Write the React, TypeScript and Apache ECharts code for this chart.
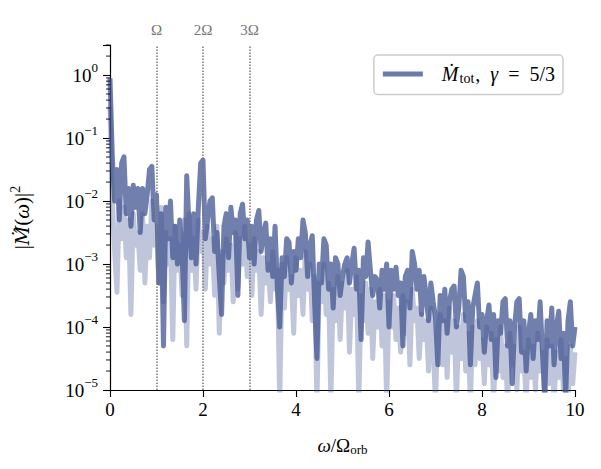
import { useEffect, useRef } from "react";
import * as echarts from "echarts";

// frequency grid (omega / Omega_orb), uniform spacing
const FREQ_STEP = 0.05;

// log10 |M(omega)|^2, one row per unit of omega
const DARK_LOG10 = [
  -0.05, -1.3, -2.0, -1.5, -2.3, -1.4, -1.3, -2.2, -1.8, -2.4, -1.75, -2.1, -1.8, -2.5, -1.8, -2.2, -1.9, -1.5, -1.45, -2.3,
  -1.9, -3.3, -2.2, -4.3, -2.1, -2.6, -2.0, -2.9, -2.4, -3.0, -2.3, -2.8, -3.9, -1.6, -2.4, -2.9, -2.2, -3.0, -2.1, -1.4,
  -1.35, -2.6, -2.3, -2.0, -1.95, -2.8, -2.5, -3.2, -3.8, -2.4, -2.2, -2.9, -2.1, -2.5, -2.3, -3.5, -2.2, -2.05, -2.6, -2.3,
  -2.9, -2.4, -3.0, -2.3, -2.15, -2.8, -2.5, -2.35, -3.1, -2.6, -3.2, -2.4, -3.4, -4.0, -2.9, -3.2, -2.6, -2.65, -3.3, -2.8,
  -3.1, -2.6, -2.9, -2.3, -2.5, -3.2, -2.7, -2.55, -3.6, -4.5, -3.0, -3.3, -2.6, -2.7, -3.4, -3.0, -3.7, -2.9, -3.0, -3.5,
  -3.2, -3.0, -2.9, -3.3, -3.0, -2.75, -3.4, -3.1, -4.2, -2.9, -3.2, -2.65, -3.1, -3.5, -3.2, -3.25, -3.7, -3.1, -3.4, -3.0,
  -4.0, -3.1, -3.4, -3.05, -3.5, -3.3, -4.3, -3.2, -3.1, -3.7, -2.8, -3.0, -3.4, -3.1, -3.8, -3.2, -3.5, -3.9, -3.3, -3.6,
  -3.85, -4.6, -3.5, -3.9, -3.4, -4.1, -3.6, -3.4, -3.35, -4.0, -3.7, -3.1, -3.2, -3.9, -3.6, -4.6, -3.7, -3.5, -3.3, -4.0,
  -3.8, -4.4, -3.9, -3.65, -4.2, -3.8, -4.8, -3.9, -4.1, -3.6, -3.55, -4.3, -3.9, -4.9, -4.0, -3.6, -3.55, -4.4, -3.9, -4.7,
  -4.1, -3.8, -4.5, -3.9, -4.2, -3.6, -4.4, -5.1, -3.9, -4.3, -3.7, -4.6, -4.0, -3.75, -4.5, -4.1, -5.1, -3.9, -3.6, -4.3,
  -4.0,
];

const LIGHT_LOG10 = [
  -0.5, -2.0, -2.8, -3.45, -2.0, -2.6, -2.1, -2.9, -2.3, -3.8, -2.2, -2.7, -2.5, -3.1, -2.2, -3.3, -2.4, -2.9, -2.0, -2.7,
  -2.4, -3.3, -2.1, -3.6, -2.5, -3.0, -2.6, -4.2, -2.4, -3.1, -2.7, -3.5, -2.3, -4.3, -2.2, -3.1, -2.6, -3.4, -2.3, -2.8,
  -2.5, -3.4, -2.4, -3.0, -2.6, -3.5, -2.4, -4.1, -2.8, -3.3, -2.6, -3.1, -2.7, -3.6, -2.5, -3.4, -2.6, -3.0, -2.4, -3.2,
  -2.7, -3.5, -2.6, -3.1, -2.8, -3.8, -2.9, -3.3, -3.0, -3.6, -2.8, -3.4, -3.1, -5.2, -3.0, -3.7, -2.9, -3.4, -3.2, -4.1,
  -2.9, -3.5, -3.1, -3.8, -2.8, -3.4, -3.0, -3.9, -3.2, -5.2, -3.3, -3.6, -3.0, -3.8, -3.3, -5.2, -3.4, -3.9, -3.2, -4.2,
  -3.3, -3.7, -3.1, -4.4, -3.4, -3.8, -3.2, -5.2, -3.5, -3.9, -3.3, -4.1, -3.4, -4.5, -3.6, -4.0, -3.4, -4.3, -3.5, -5.2,
  -3.6, -4.0, -3.5, -4.2, -3.7, -4.4, -3.5, -4.1, -3.6, -4.6, -3.4, -3.9, -3.7, -4.5, -3.8, -4.2, -3.9, -4.7, -3.7, -4.3,
  -5.2, -4.0, -3.8, -4.6, -3.9, -4.8, -3.7, -4.4, -3.9, -5.2, -4.0, -4.5, -3.8, -4.7, -4.1, -5.2, -4.0, -4.6, -3.9, -4.5,
  -4.2, -4.9, -4.0, -4.6, -4.1, -5.2, -4.2, -4.7, -4.0, -4.8, -4.3, -5.2, -4.1, -4.6, -4.3, -5.0, -4.0, -4.7, -4.4, -5.2,
  -4.2, -4.8, -4.3, -5.0, -4.1, -4.7, -4.4, -5.2, -4.2, -4.9, -4.3, -5.2, -4.4, -4.8, -4.2, -5.0, -4.5, -5.2, -4.3, -4.9,
  -4.4,
];

const HARMONICS = [1, 2, 3];
const HARMONIC_LABELS = ["Ω", "2Ω", "3Ω"];

const Y_MIN = 1e-5;
const Y_MAX = 3;

const FONT = "Liberation Serif";
const DARK = "rgba(66, 84, 145, 0.75)";
const LIGHT = "rgba(66, 86, 146, 0.34)";

function toPoints(logs: number[]) {
  return logs.map((e, i) => [+(i * FREQ_STEP).toFixed(2), Math.pow(10, e)]);
}

// matplotlib-like minor ticks at 2..9 x 10^n
function minorTicks() {
  const out: number[] = [];
  for (let n = -5; n <= 0; n++) {
    for (let k = 2; k <= 9; k++) {
      const v = k * Math.pow(10, n);
      if (v <= Y_MAX + 1e-9) out.push(v);
    }
  }
  return out;
}

const TXT = { fontFamily: FONT, fontSize: 19, color: "#000" };
const ITAL = { ...TXT, fontStyle: "italic" };
const SUB = { fontFamily: FONT, fontSize: 13, color: "#000", padding: [9, 0, 0, 0] };
const BIG = { fontFamily: FONT, fontSize: 21, color: "#000" };

export default function App() {
  const ref = useRef<HTMLDivElement>(null);
  useEffect(() => {
    if (!ref.current) return;
    const chart = echarts.init(ref.current, undefined, { renderer: "svg" });
    const option: echarts.EChartsOption = {
      animation: false,
      backgroundColor: "#fff",
      grid: { left: 109, right: 26, top: 45, bottom: 79 },
      legend: {
        data: ["mdot"],
        right: 38,
        top: 55,
        icon: "rect",
        itemWidth: 40,
        itemHeight: 5,
        padding: [9, 8, 9, 9],
        borderColor: "#cccccc",
        borderWidth: 1.5,
        borderRadius: 4,
        backgroundColor: "#fff",
        formatter: () => "{i|Ṁ}{s|tot}{n|,}{g|}{i|γ}{g|}{n|=}{g|}{n|5/3}",
        textStyle: {
          padding: [0, 0, 0, 14],
          rich: {
            i: { ...ITAL, fontSize: 20 },
            n: { ...TXT, fontSize: 20 },
            s: { ...SUB, fontSize: 14, padding: [9, 1, 0, 1] },
            g: { width: 10 },
          },
        },
      },
      xAxis: {
        type: "value",
        min: 0,
        max: 10,
        interval: 2,
        name: "{i|ω}{n|/Ω}{s|orb}",
        nameLocation: "middle",
        nameGap: 44,
        nameTextStyle: { rich: { i: ITAL, n: TXT, s: SUB } },
        axisLine: { lineStyle: { color: "#000", width: 1.2 } },
        axisTick: { length: 7, lineStyle: { color: "#000", width: 1.1 } },
        axisLabel: { fontFamily: FONT, fontSize: 19, color: "#000", margin: 10 },
        splitLine: { show: false },
      },
      yAxis: {
        type: "log",
        logBase: 10,
        min: Y_MIN,
        max: Y_MAX,
        name: "{n||}{m|M\u0307\u0302}{n|(}{i|ω}{n|)|}{p|2}",
        nameLocation: "middle",
        nameRotate: 90,
        nameGap: 74,
        nameTextStyle: {
          rich: {
            i: { ...BIG, fontStyle: "italic" },
            n: BIG,
            m: { fontFamily: "DejaVu Serif", fontSize: 19, fontStyle: "italic", color: "#000" },
            p: { fontFamily: FONT, fontSize: 14, color: "#000", padding: [0, 0, 14, 0] },
          },
        },
        axisLine: { show: true, lineStyle: { color: "#000", width: 1.2 } },
        axisTick: { length: 7, lineStyle: { color: "#000", width: 1.1 } },
        axisLabel: {
          margin: 12,
          formatter: (v: number) => {
            const e = Math.log10(v);
            if (Math.abs(e - Math.round(e)) > 1e-6) return "";
            const r = Math.round(e);
            return `{b|10}{s|${r < 0 ? "−" + -r : r}}`;
          },
          rich: {
            b: TXT,
            s: { fontFamily: FONT, fontSize: 13, color: "#000", padding: [0, 0, 15, 0] },
          },
        },
        splitLine: { show: false },
      },
      series: [
        {
          name: "light",
          type: "line",
          data: toPoints(LIGHT_LOG10),
          showSymbol: false,
          lineStyle: { color: LIGHT, width: 5, join: "round" },
          itemStyle: { color: LIGHT },
          z: 2,
          markLine: {
            silent: true,
            symbol: "none",
            lineStyle: { type: "dotted", color: "#777", width: 1.5 },
            label: {
              position: "end",
              distance: 8,
              fontFamily: FONT,
              fontSize: 15,
              color: "#777",
              formatter: (p: any) => p.name,
            },
            data: HARMONICS.map((h, i) => ({ xAxis: h, name: HARMONIC_LABELS[i] })),
          },
        },
        {
          name: "mdot",
          type: "line",
          data: toPoints(DARK_LOG10),
          showSymbol: false,
          lineStyle: { color: DARK, width: 5, join: "round" },
          itemStyle: { color: "#6b7aa6" },
          z: 3,
        },
        {
          name: "minor",
          type: "custom",
          silent: true,
          clip: false,
          z: 5,
          data: minorTicks().map((v) => [0, v]),
          renderItem: (_params: any, api: any) => {
            const p = api.coord([0, api.value(1)]);
            return {
              type: "line",
              shape: { x1: p[0] - 4, y1: p[1], x2: p[0], y2: p[1] },
              style: { stroke: "#000", lineWidth: 0.9 },
            };
          },
        },
      ],
    };
    chart.setOption(option);
    return () => chart.dispose();
  }, []);
  return <div ref={ref} style={{ width: 601, height: 469, margin: -8 }} />;
}
